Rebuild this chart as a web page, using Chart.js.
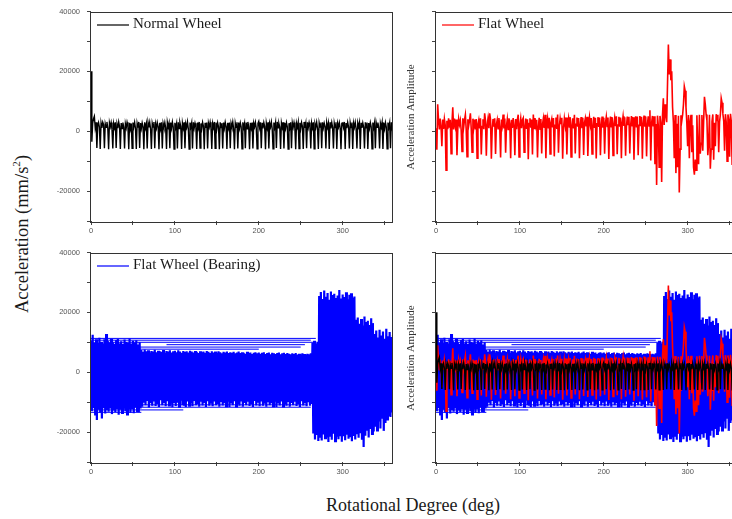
<!DOCTYPE html>
<html>
<head>
<meta charset="utf-8">
<script src="https://cdn.jsdelivr.net/npm/chart.js@4.4.1/dist/chart.umd.min.js"></script>
<style>
html, body { margin: 0; padding: 0; overflow: hidden; background: #fff; }
#wrap { position: relative; width: 732px; height: 519px; overflow: hidden; }
canvas { position: absolute; }
.lbl { position: absolute; font-family: 'Liberation Serif', 'Times New Roman', serif; color: #1a1a1a; white-space: nowrap; transform: translate(-50%, -50%); }
.rot { transform: translate(-50%, -50%) rotate(-90deg); }
sup { font-size: 0.6em; line-height: 0; }
</style>
</head>
<body>
<div id="wrap">
  <canvas id="normal" width="353" height="241" style="left:41px;top:0"></canvas>
  <canvas id="flat" width="353" height="241" style="left:386px;top:0"></canvas>
  <canvas id="bearing" width="353" height="241" style="left:41px;top:241px"></canvas>
  <canvas id="all" width="353" height="241" style="left:386px;top:241px"></canvas>
  <div class="lbl rot" style="left:22px;top:234px;font-size:18.5px">Acceleration (mm/s<sup>2</sup>)</div>
  <div class="lbl" style="left:413px;top:505px;font-size:18px">Rotational Degree (deg)</div>
  <div class="lbl rot" style="left:410px;top:117px;font-size:11px;color:#333">Acceleration Amplitude</div>
  <div class="lbl rot" style="left:410px;top:358px;font-size:11px;color:#333">Acceleration Amplitude</div>
</div>
<script>
// one sample per degree, 0..360
const degreeStep = 1;

const normalWheel = [
  20000, -3500, 2600, 4200, 5000, 1200, 3000, -5600, 1800, 2900, 1400, -5900, 2700, 1100, 3000, 2200, -5700, 2500, 1300, 3100,
  1000, -6000, 2800, 1500, 2900, 700, -5800, 2600, 1200, 3000, -5600, 2400, 1000, 3100, 1600, -5900, 2700, 900, 2900, 1300,
  -5800, 2500, 1100, 3000, 1700, -6000, 2800, 800, 2600, -5700, 2900, 1400, 3000, 1000, -5900, 2600, 1200, 3100, -5600, 2700,
  900, 2800, 1500, -6000, 3000, 1100, 2500, -5800, 2900, 1300, 3000, 800, -5900, 2700, 1400, 3100, -5700, 2400, 1000, 2900,
  1600, -6000, 2800, 900, 3000, -5800, 2600, 1300, 2900, 1100, -5900, 3000, 1500, 2700, -5700, 2900, 1000, 3100, 1400, -6000,
  2800, 1200, 2600, -5800, 3000, 900, 2900, 1600, -5900, 2700, 1100, 3000, -5700, 2500, 1300, 3100, 800, -6000, 2900, 1400,
  2800, -5800, 3000, 1000, 2700, 1500, -5900, 2900, 1200, 3100, -5600, 2600, 900, 3000, 1700, -6000, 2800, 1100, 2900, -5800,
  2700, 1400, 3000, 1000, -5900, 2600, 1300, 3100, -5700, 2900, 800, 2800, 1500, -6000, 3000, 1200, 2700, -5800, 2900, 1000,
  3000, 1600, -5900, 2800, 1100, 2900, -5700, 2600, 1400, 3100, 900, -6000, 2700, 1300, 3000, -5800, 2900, 1000, 2800, 1500,
  -5900, 3000, 1200, 2600, -5700, 2900, 800, 3100, 1400, -6000, 2800, 1100, 2900, -5800, 2700, 1500, 3000, 1000, -5900, 2600,
  3300, 1200, 3000, -5700, 2800, 900, 2900, 1600, -6000, 2700, 1100, 3000, -5800, 2600, 1400, 3100, 800, -5900, 2900, 1300,
  2900, -5600, 3100, 1100, 2600, 1400, -5900, 2800, 1300, 3000, -5800, 2700, 1000, 2900, 1500, -6000, 2700, 1200, 3000, -5700,
  2800, 1300, 2900, 1100, -6000, 2700, 1400, 3000, -5800, 2800, 900, 2900, 1600, -5900, 3100, 1100, 2600, -5700, 3000, 1200,
  2900, 1500, -5800, 2700, 1200, 3000, -5900, 2500, 1300, 3000, 1000, -5900, 2800, 1400, 2900, -5700, 3000, 1100, 2700, 1600,
  -5800, 2900, 1300, 2700, -5900, 3000, 900, 2900, 1300, -5800, 2700, 1200, 3000, -5900, 2600, 1400, 2900, 1100, -6000, 2700,
  2800, 1300, 3100, -5900, 2700, 1000, 3000, 1500, -5800, 2800, 1200, 2900, -5900, 2700, 1300, 3000, 900, -5800, 2800, 1500,
  2900, -5900, 2800, 1100, 2800, 1400, -5800, 3000, 1100, 2900, -5900, 2700, 1000, 2900, 1500, -5900, 2900, 1200, 2800, -5700,
  2800, 1300, 2900, 1100, -5800, 2700, 1400, 3000, -5900, 2800, 900, 2900, 1400, -5900, 2900, 1300, 2800, -5700, 3000, 1100,
  2800
];

const flatWheel = [
  1000, -6200, 9000, 3800, 600, 4200, 1500, -5000, 3900, 800, 4100, 2000, -13000, 3500, 700, 4300, 1200, 3800, -7500, 2600,
  8000, 600, 4200, 1800, 3900, -8000, 900, 4100, 2200, 3600, 500, -6800, 4300, 1400, 3800, 5500, 700, -8500, 4000, 1900,
  3700, 6000, 800, -7000, 4200, 1300, 3900, 600, 4100, -9000, 2400, 3800, 900, 4300, -7800, 1600, 4000, 700, 6000, 3600,
  -8200, 2100, 4200, 1000, 6000, 3900, -9200, 700, 4100, 1500, 4300, -7600, 2300, 3800, 800, 4400, 1200, -8800, 3900, 2000,
  5600, 900, 4200, -7200, 1700, 4000, 600, 4300, 2500, -9000, 3800, 1100, 4400, 1800, -8000, 4100, 700, 3900, 5500, -8600,
  2200, 4300, 1000, 3800, 4400, -7000, 1500, 4200, 800, 4000, -9400, 2600, 4300, 1200, 3900, -7800, 5600, 900, 4400, 2000,
  3800, -8800, 1400, 4500, 700, 4100, -7400, 2400, 4300, 1100, 5500, -9000, 1800, 4200, 900, 4500, -7600, 2800, 4100, 1300,
  4400, -8400, 2000, 4600, 800, 5600, -7200, 1600, 4300, 2400, 4500, -9200, 1100, 4200, 1900, 4600, -7800, 2600, 4400, 1200,
  4700, -8600, 1800, 4300, 900, 5500, -7400, 2300, 4600, 1500, 4400, -9000, 2100, 4700, 1000, 4500, -7900, 2800, 4300, 1600,
  4800, -8300, 1300, 4600, 2200, 4400, -7600, 1700, 4800, 1100, 4500, -9100, 2500, 4700, 1400, 4600, -8000, 2000, 4900, 1200,
  4500, -7500, 2700, 4800, 1600, 4600, -9300, 1900, 4900, 1300, 4700, -8100, 2400, 4500, 1700, 5000, -7700, 2100, 4800, 1500,
  4600, -9000, 2800, 5000, 1800, 4700, -8200, 1400, 4900, 2300, 4800, -7400, 1900, 5100, 1600, 4700, -9500, 2600, 5000, 1300,
  4900, -8000, 2000, 5100, 1700, 4800, -9200, 2500, 5200, 1500, 4900, -8400, 2200, 5000, 1800, 7000, -9800, 2700, 5100, 1600,
  5000, -11000, 2400, -18000, 5200, 1900, -12000, 5100, 2800, -17000, 5300, 11000, 2100, 9000, 5200, 3000, 16000, 29000, 19000, 24000,
  17000, 20000, 8000, 3000, -9000, 5400, -14000, 2500, -12000, 5200, -20500, -6000, 5300, 3500, 5500, 9000, 15000, 13500, 8000, 2800,
  -5000, 5400, -9000, 3200, 5500, -7000, 2000, -12000, -14500, -9500, -13000, 5300, -6000, -11000, 5500, -7500, -4000, 5400, -6500, 2900,
  11500, 9000, 5600, 3500, -8000, -4000, 5500, -12500, -6000, 3200, 5600, -9500, 2800, -5000, 5700, 3600, 5500, -7000, 3100, 5600,
  11000, 9500, 5800, 3400, -6500, 5700, 2900, -10000, 5600, 3800, -8500, 5800, 3200, -11000, 5700, 4000, 9500, 5900, -9000, 3500,
  5800
];

const flatWheelBearing = [
  10500, -13000, 12500, -12000, 10000, -14500, 11000, -16000, 9800, -12500, 11500, -13500, 10200, -15500, 9600, -12000, 11000, -13800, 12800, -12600,
  10400, -13200, 9900, -12100, 11200, -14000, 10000, -12800, 9500, -13300, 10800, -11900, 11100, -14200, 9700, -12500, 10300, -13600, 9400, -12200,
  10900, -13000, 10100, -14100, 9800, -12400, 11300, -13500, 9600, -12000, 10500, -13700, 9900, -11800, 10700, -12900, 9300, -13400, 10000, -12100,
  7400, -11500, 6800, -10200, 7600, -11000, 7000, -9600, 7300, -11800, 6600, -10400, 7100, -11200, 6900, -9800, 7500, -11300, 6700, -10600,
  7200, -11600, 7000, -9400, 6800, -11000, 7400, -10300, 6500, -11400, 7100, -9700, 6900, -11100, 7300, -10500, 6600, -11700, 7000, -9900,
  7200, -11300, 6700, -10200, 7300, -11500, 6900, -9500, 6500, -11000, 7100, -10800, 6800, -11600, 7000, -9800, 6600, -11200, 7200, -10400,
  6900, -11400, 6600, -9600, 7100, -11000, 6800, -10700, 6400, -11500, 7000, -9900, 6700, -11100, 6900, -10300, 6500, -11600, 7100, -9700,
  6800, -11200, 6400, -10500, 7000, -11400, 6600, -9800, 6900, -11000, 6500, -10600, 7000, -11500, 6700, -9600, 6300, -11100, 6800, -10400,
  6600, -11300, 6900, -9900, 6400, -11600, 6700, -10100, 6500, -11000, 6800, -9700, 6300, -11400, 6600, -10600, 6900, -11200, 6400, -9800,
  6700, -11500, 6500, -10300, 6200, -11000, 6800, -9900, 6400, -11300, 6600, -10700, 6100, -11600, 6500, -9600, 6700, -11100, 6300, -10200,
  6600, -11400, 6200, -9800, 6500, -11200, 6700, -10500, 6100, -11500, 6400, -9700, 6600, -11000, 6000, -10400, 6500, -11300, 6300, -9900,
  6100, -11600, 6400, -10100, 6600, -11100, 6000, -9800, 6300, -11400, 6500, -10600, 6100, -11200, 6400, -9600, 6200, -11500, 6000, -10300,
  6300, -11000, 6100, -9900, 6400, -11300, 5900, -10700, 6200, -11600, 6000, -9700, 6300, -11100, 6100, -10400, 5900, -11400, 6200, -10000,
  6000, -11200, 6300, -10600, 9800, -20500, 10500, -22500, 9600, -21000, 10200, -23000, 25500, -21500, 26800, -22800, 24500, -20800, 27300, -22000,
  25200, -21800, 26500, -23300, 24200, -21200, 27000, -22600, 25800, -20600, 26200, -23000, 24800, -21600, 25600, -22400, 27500, -21000, 24600, -23200,
  26000, -21400, 25100, -22700, 26700, -20900, 24400, -22200, 25900, -21700, 26400, -23100, 24900, -21300, 25300, -22500, 17500, -20700, 18300, -21900,
  16200, -20400, 17800, -22600, 15600, -25000, 18600, -21200, 16800, -19600, 17200, -21800, 15800, -19000, 18000, -20600, 16400, -19800, 12800, -18200,
  13900, -19400, 11600, -16500, 14200, -18800, 12300, -15200, 13600, -19600, 11200, -17000, 14500, -15800, 12000, -14600, 13400, -15000, 11800, -13500,
  12500
];

// flat-lines where the bearing trace wraps back to 0 deg
const bearingWrapFrom = [0, 0, 20, 90, 55, 30, 0, 0, 0, 0];
const bearingWrapTo = [268, 262, 266, 255, 250, 200, 262, 258, 110, 60];
const bearingWrapLevel = [11300, 10700, 10000, 9200, 8400, 7700, -11700, -10900, -12600, -13400];

const xTickValues = [0, 50, 100, 150, 200, 250, 300, 350];
const xTickLabels = [0, 100, 200, 300];
const yTickValues = [-30000, -20000, -10000, 0, 10000, 20000, 30000, 40000];
const yTickLabels = [-20000, 0, 20000, 40000];

Chart.defaults.font.family = "'Liberation Sans', Arial, sans-serif";

function toPoints(series) {
  return series.map((v, i) => ({ x: i * degreeStep, y: v }));
}

function wrapPoints() {
  const pts = [];
  bearingWrapLevel.forEach((lvl, i) => {
    pts.push({ x: bearingWrapFrom[i], y: lvl }, { x: bearingWrapTo[i], y: lvl }, { x: bearingWrapTo[i], y: null });
  });
  return pts;
}

const framePlugin = {
  id: 'frame',
  afterDatasetsDraw(chart) {
    const { ctx, chartArea: a } = chart;
    ctx.save();
    ctx.strokeStyle = '#333';
    ctx.lineWidth = 1;
    ctx.strokeRect(Math.round(a.left) - 0.5, Math.round(a.top) + 0.5, Math.round(a.right - a.left), Math.round(a.bottom - a.top));
    ctx.restore();
  }
};

const legendPlugin = {
  id: 'insideLegend',
  afterDraw(chart, args, opts) {
    if (!opts.show) return;
    const ds = chart.data.datasets[0];
    const { ctx, chartArea: a } = chart;
    const y = a.top + 13;
    ctx.save();
    ctx.strokeStyle = ds.borderColor;
    ctx.lineWidth = 1.2;
    ctx.beginPath();
    ctx.moveTo(a.left + 6, y + 0.5);
    ctx.lineTo(a.left + 38, y + 0.5);
    ctx.stroke();
    ctx.fillStyle = '#1a1a1a';
    ctx.font = "15px 'Liberation Serif', 'Times New Roman', serif";
    ctx.textBaseline = 'middle';
    ctx.fillText(ds.label, a.left + 42, y);
    ctx.restore();
  }
};

function line(label, series, color, width) {
  return {
    label: label,
    data: series,
    borderColor: color,
    borderWidth: width,
    pointRadius: 0,
    tension: 0,
    spanGaps: false
  };
}

function makePanel(id, datasets, yLabels, legend) {
  new Chart(document.getElementById(id), {
    type: 'line',
    data: { datasets: datasets },
    plugins: [framePlugin, legendPlugin],
    options: {
      responsive: false,
      animation: false,
      devicePixelRatio: 1,
      events: [],
      layout: { padding: { top: 10, right: 1, left: 0, bottom: 0 } },
      plugins: {
        legend: { display: false },
        tooltip: { enabled: false },
        insideLegend: { show: legend }
      },
      scales: {
        x: {
          type: 'linear',
          min: 0,
          max: 360,
          afterBuildTicks: s => { s.ticks = xTickValues.map(v => ({ value: v })); },
          afterFit: s => { s.height = 20; },
          grid: { drawOnChartArea: false, tickLength: 4, tickColor: '#444' },
          border: { display: false },
          ticks: {
            autoSkip: false,
            maxRotation: 0,
            padding: 1,
            color: '#555',
            font: { size: 7.5 },
            callback: v => xTickLabels.includes(v) ? String(v) : ''
          }
        },
        y: {
          type: 'linear',
          min: -30000,
          max: 40000,
          afterBuildTicks: s => { s.ticks = yTickValues.map(v => ({ value: v })); },
          afterFit: s => { s.width = 50; },
          grid: { drawOnChartArea: false, tickLength: 4, tickColor: '#444' },
          border: { display: false },
          ticks: {
            autoSkip: false,
            padding: 7,
            color: '#555',
            font: { size: 7.5 },
            callback: v => (yLabels && yTickLabels.includes(v)) ? String(v) : ''
          }
        }
      }
    }
  });
}

const black = '#000';
const red = 'rgb(255,0,0)';
const blue = 'rgb(0,0,255)';

makePanel('normal', [line('Normal Wheel', toPoints(normalWheel), black, 1.4)], true, true);
makePanel('flat', [line('Flat Wheel', toPoints(flatWheel), red, 1.6)], false, true);
makePanel('bearing', [
  line('Flat Wheel (Bearing)', toPoints(flatWheelBearing), blue, 2.2),
  line('', wrapPoints(), blue, 1)
], true, true);
makePanel('all', [
  line('Normal Wheel', toPoints(normalWheel), black, 1.4),
  line('Flat Wheel', toPoints(flatWheel), red, 1.6),
  line('Flat Wheel (Bearing)', toPoints(flatWheelBearing), blue, 2.2),
  line('', wrapPoints(), blue, 1)
], false, false);
</script>
</body>
</html>
